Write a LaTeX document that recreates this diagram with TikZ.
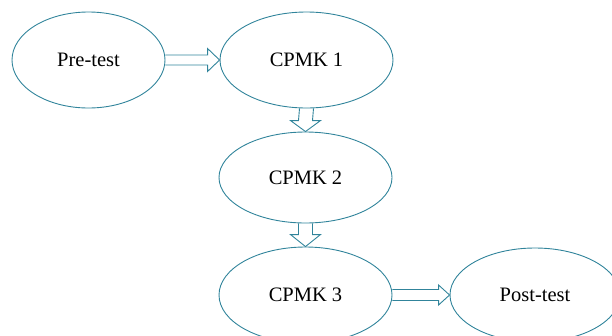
\documentclass[tikz,border=0pt]{standalone}
\usepackage{fontspec}
\setmainfont{Liberation Serif}
\usetikzlibrary{shapes.geometric,calc}

\definecolor{tealline}{RGB}{49,132,155}

% block arrows between two anchors: from, to, shaft half, head half, head length
\newcommand{\rblock}[5]{%
  \draw[blockarrow] ($(#1)+(0,-#3)$) -- ($(#2)+(-#5,-#3)$) -- ($(#2)+(-#5,-#4)$) -- (#2)
    -- ($(#2)+(-#5,#4)$) -- ($(#2)+(-#5,#3)$) -- ($(#1)+(0,#3)$);}
\newcommand{\dblock}[5]{%
  \draw[blockarrow] ($(#1)+(-#3,0)$) -- ($(#2)+(-#3,-#5)$) -- ($(#2)+(-#4,-#5)$) -- (#2)
    -- ($(#2)+(#4,-#5)$) -- ($(#2)+(#3,-#5)$) -- ($(#1)+(#3,0)$);}

\tikzset{
  stage/.style={ellipse, draw=tealline, line width=0.9pt, inner sep=0pt,
    minimum width=173pt, minimum height=96pt,
    font=\fontsize{20.5}{24}\selectfont},
  blockarrow/.style={draw=tealline, line width=0.9pt, line join=miter}
}

\begin{document}
\begin{tikzpicture}[x=1pt,y=1pt,yscale=-1,xscale=1]
	\useasboundingbox (0,0) rectangle (612,335);
	\node[stage, minimum width=153pt] (pre) at (88.5,60) {Pre-test};
	\node[stage] (cpmk1) at (306.5,60) {CPMK 1};
	\node[stage, minimum height=91pt] (cpmk2) at (305.5,177.5) {CPMK 2};
	\node[stage] (cpmk3) at (305.5,295) {CPMK 3};
	\node[stage, minimum width=170pt, minimum height=94pt] (post) at (535,295) {Post-test};
	\rblock{pre.east}{cpmk1.west}{5}{11.5}{12}
	\dblock{cpmk1.south}{cpmk2.north}{7}{15}{11}
	\dblock{cpmk2.south}{cpmk3.north}{7}{15}{12}
	\rblock{cpmk3.east}{post.west}{5.5}{10}{11}
\end{tikzpicture}
\end{document}
